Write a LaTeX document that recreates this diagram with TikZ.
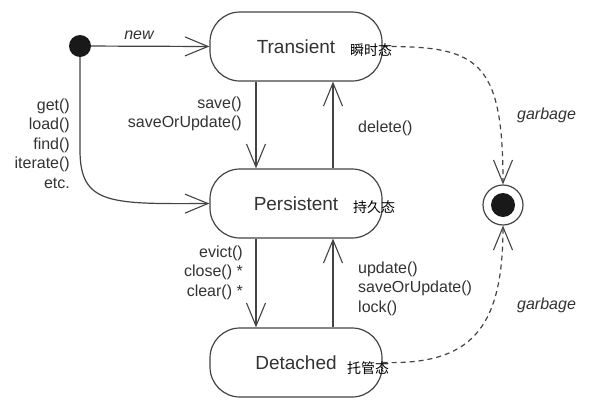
\documentclass[tikz,border=0pt]{standalone}
\usepackage{fontspec}
\setmainfont{Liberation Sans}
\newfontfamily\cjk{Noto Sans CJK SC}
\usetikzlibrary{arrows.meta}
\definecolor{linec}{HTML}{444444}
\definecolor{textc}{HTML}{333333}
\begin{document}
\begin{tikzpicture}[x=1pt,y=-1pt,
  state/.style={draw=linec, line width=1.2pt, rounded corners=30pt, minimum width=172pt, minimum height=69pt, font=\fontsize{19}{22}\selectfont, text=textc, inner sep=0pt},
  lbl/.style={font=\fontsize{16}{19.5}\selectfont, text=textc, inner sep=0pt},
  cn/.style={font=\cjk\fontsize{14}{16}\selectfont, text=black, inner sep=0pt},
  conn/.style={draw=linec, line width=1.2pt, -{Straight Barb[length=23pt,width=19pt,line width=1.1pt]}},
  dconn/.style={conn, dash pattern=on 5pt off 4pt}]
\useasboundingbox (0,0) rectangle (603,402);
\fill[white] (0,0) rectangle (603,402);
\node[state] (T) at (296,46.5) {Transient};
\node[state] (P) at (296,203.5) {Persistent};
\node[state] (D) at (296,362.5) {Detached};
\node[circle, fill=black!90, minimum size=22pt, inner sep=0pt] (I) at (80,46) {};
\node[circle, draw=linec, line width=1.2pt, minimum size=40pt, inner sep=0pt] (E) at (503,205) {};
\node[circle, fill=black!90, minimum size=24pt, inner sep=0pt] (Ei) at (E.center) {};
\coordinate (a1) at (256,0);
\coordinate (a2) at (333,0);
\coordinate (c1) at (80,150);
% connectors
\draw[conn] (I) -- (T.west);
\path[conn] (I.south) -- (c1) .. controls (80,205) and (110,204) .. (P.west);
\draw[conn] (T.south -| a1) -- (P.north -| a1);
\draw[conn] (P.north -| a2) -- (T.south -| a2);
\draw[conn] (P.south -| a1) -- (D.north -| a1);
\draw[conn] (D.north -| a2) -- (P.south -| a2);
\draw[dconn] (T.east) .. controls (478,46) and (503,60) .. (E.north);
\draw[dconn] (D.east) .. controls (470,365) and (503,330) .. (E.south);
% labels
\node[lbl, font=\fontsize{16}{19.5}\selectfont\itshape] (ln) at (139,35) {new};
\node[lbl, anchor=east, align=right] (lg) at (70,143.5) {get()\\load()\\find()\\iterate()\\etc.};
\node[lbl, anchor=east, align=right] (ls) at (242,114) {save()\\saveOrUpdate()};
\node[lbl, anchor=west, align=left] (ld) at (358,128) {delete()};
\node[lbl, anchor=east, align=right] (le) at (243,272.5) {evict()\\close() *\\clear() *};
\node[lbl, anchor=west, align=left] (lu) at (358,288.5) {update()\\saveOrUpdate()\\lock()};
\node[lbl, anchor=west, font=\fontsize{16}{19.5}\selectfont\itshape] (lg1) at (517,115) {garbage};
\node[lbl, anchor=west, font=\fontsize{16}{19.5}\selectfont\itshape] (lg2) at (517,305) {garbage};
\node[cn, anchor=west] (c1t) at (350,50) {瞬时态};
\node[cn, anchor=west] (c2t) at (353,207) {持久态};
\node[cn, anchor=west] (c3t) at (347,368) {托管态};
\end{tikzpicture}
\end{document}
